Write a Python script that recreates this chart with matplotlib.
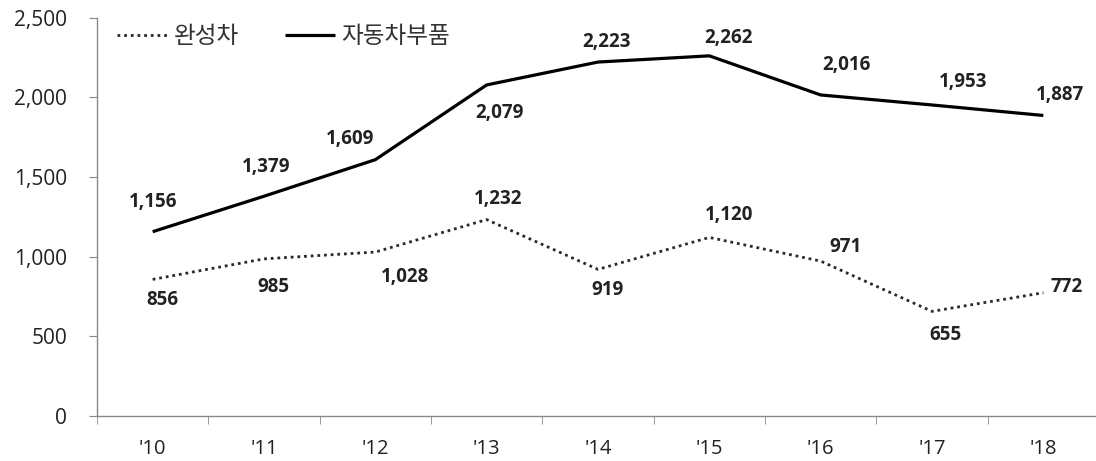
import matplotlib
matplotlib.use("Agg")
import matplotlib.pyplot as plt
import numpy as np

plt.rcParams['font.family'] = ['Open Sans', 'Noto Sans CJK KR', 'DejaVu Sans']

years = ["'10", "'11", "'12", "'13", "'14", "'15", "'16", "'17", "'18"]
cars = [856, 985, 1028, 1232, 919, 1120, 971, 655, 772]
parts = [1156, 1379, 1609, 2079, 2223, 2262, 2016, 1953, 1887]
series_names = ["완성차", "자동차부품"]

# label offsets (points)
cars_off = [(7, -15), (6.5, -20), (21.5, -18), (8.5, 14.5), (6.5, -14.5),
            (14.5, 16), (18, 10), (9.5, -17), (16.5, 4.5)]
parts_off = [(0, 21.5), (1.5, 21), (-18.5, 15), (9.5, -20), (6, 14.5),
             (13.5, 13), (18.5, 21.5), (22.5, 16.5), (12, 14.5)]

fig = plt.figure(figsize=(10.96, 4.61), dpi=100)
ax = fig.add_axes([97/1096, 1 - 415.5/461, (1099 - 97)/1096, (415.5 - 18)/461])

x = np.arange(len(years))
ax.plot(x, cars, color='#2a2a2a', lw=2.0, linestyle=(0, (1, 1.4)),
        dash_capstyle='butt', label=series_names[0])
ax.plot(x, parts, color='black', lw=2.3, label=series_names[1], solid_capstyle='butt')

for xi, v, o in zip(x, cars, cars_off):
    ax.annotate(f"{v:,}", (xi, v), xytext=o, textcoords='offset points',
                ha='center', va='center', fontsize=13.5, fontweight='bold',
                color='#222222', family='Open Sans')
for xi, v, o in zip(x, parts, parts_off):
    ax.annotate(f"{v:,}", (xi, v), xytext=o, textcoords='offset points',
                ha='center', va='center', fontsize=13.5, fontweight='bold',
                color='#222222', family='Open Sans')

ax.set_xlim(-0.5, len(years) - 0.5)
ax.set_ylim(0, 2500)
yt = np.arange(0, 2501, 500)
ax.set_yticks(yt)
ax.set_yticklabels([f"{v:,}" for v in yt], fontsize=15, color='#222222', family='Open Sans')
ax.set_xticks(x)
ax.set_xticklabels(years, fontsize=14.5, color='#222222', family='Open Sans')
ax.set_xticks(np.arange(-0.5, len(years), 1), minor=True)
ax.tick_params(axis='x', which='major', length=0, pad=17)
ax.tick_params(axis='x', which='minor', length=5.5, direction='out', color='#888888')
ax.tick_params(axis='y', length=5.5, direction='out', color='#888888', pad=16)

for s in ['top', 'right']:
    ax.spines[s].set_visible(False)
for s in ['left', 'bottom']:
    ax.spines[s].set_color('#888888')
    ax.spines[s].set_linewidth(1.0)

leg = fig.legend(handles=ax.get_lines(), labels=series_names, loc='upper left', ncol=2,
                 frameon=False, prop={'family': ['Noto Sans CJK KR'], 'size': 17},
                 handlelength=2.1, handletextpad=0.3, columnspacing=1.95,
                 borderpad=0, borderaxespad=0,
                 bbox_to_anchor=(117/1096, 1 - 25/461))
for t in leg.get_texts():
    t.set_color('#333333')

fig.savefig("out.png", dpi=100)
